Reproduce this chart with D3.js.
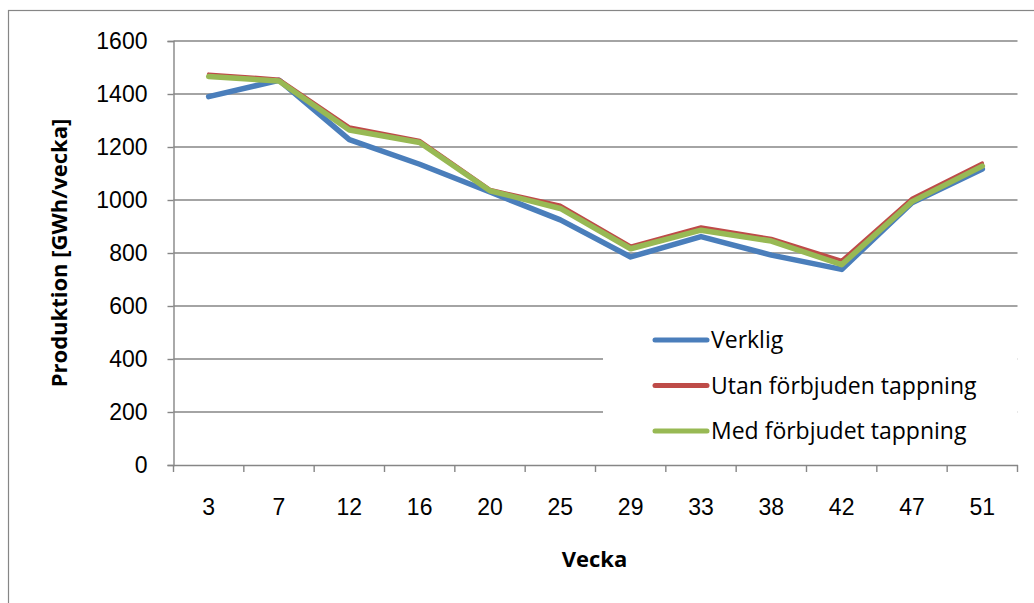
<!DOCTYPE html>
<html>
<head>
<meta charset="utf-8">
<script src="https://cdn.jsdelivr.net/npm/d3@7"></script>
<style>
  body { margin: 0; background: #fff; }
  svg { font-family: 'Open Sans', 'Noto Sans', sans-serif; }
</style>
</head>
<body>
<div id="chart"></div>
<script>
const weeks = ['3', '7', '12', '16', '20', '25', '29', '33', '38', '42', '47', '51'];
const verklig = [1390, 1452, 1228, 1135, 1030, 925, 785, 862, 792, 738, 990, 1117];
const utanForbjuden = [1475, 1456, 1276, 1225, 1040, 980, 826, 898, 855, 772, 1006, 1139];
const medForbjudet = [1466, 1449, 1264, 1217, 1035, 968, 816, 886, 845, 756, 994, 1128];
const yTicks = [0, 200, 400, 600, 800, 1000, 1200, 1400, 1600];

const series = [
  { name: 'Verklig', values: verklig, color: '#4a7ebb', width: 5.5 },
  { name: 'Utan förbjuden tappning', values: utanForbjuden, color: '#be4b48', width: 3.5 },
  { name: 'Med förbjudet tappning', values: medForbjudet, color: '#98b954', width: 5.5 }
];

const width = 1034, height = 603;
const margin = { top: 41, right: 16.5, bottom: 138, left: 173.5 };
const innerW = width - margin.left - margin.right;
const innerH = height - margin.top - margin.bottom;
const gray = '#868686';
const fs = 23;

const svg = d3.select('#chart').append('svg')
  .attr('width', width).attr('height', height);

// outer chart frame (runs off the picture to the right and bottom)
svg.append('rect')
  .attr('x', 8.5).attr('y', 10.5)
  .attr('width', 1040).attr('height', 620)
  .attr('fill', 'none').attr('stroke', gray).attr('stroke-width', 1.2);

const g = svg.append('g').attr('transform', `translate(${margin.left},${margin.top})`);

const x = d3.scaleBand().domain(weeks).range([0, innerW]);
const y = d3.scaleLinear().domain([0, 1600]).range([innerH, 0]);

// gridlines
g.append('g').selectAll('line').data(yTicks.filter(d => d > 0)).join('line')
  .attr('x1', 0).attr('x2', innerW)
  .attr('y1', d => y(d)).attr('y2', d => y(d))
  .attr('stroke', gray).attr('stroke-width', 1.4);

// y axis
const yAxis = g.append('g')
  .call(d3.axisLeft(y).tickValues(yTicks).tickSize(6).tickPadding(20).tickFormat(d3.format('d')));
yAxis.select('.domain').attr('stroke', gray).attr('stroke-width', 1.4);
yAxis.selectAll('.tick line').attr('stroke', gray).attr('stroke-width', 1.4);
yAxis.selectAll('.tick text').attr('font-size', fs).attr('fill', '#000');

// x axis, ticks between categories
const xAxis = g.append('g').attr('transform', `translate(0,${innerH})`)
  .call(d3.axisBottom(x).tickSize(0).tickPadding(34));
xAxis.select('.domain').attr('stroke', gray).attr('stroke-width', 1.4);
xAxis.selectAll('.tick text').attr('font-size', fs).attr('fill', '#000');
xAxis.append('g').selectAll('line').data(d3.range(weeks.length + 1)).join('line')
  .attr('x1', i => i * x.step()).attr('x2', i => i * x.step())
  .attr('y1', 0).attr('y2', 7)
  .attr('stroke', gray).attr('stroke-width', 1.4);

// axis titles
svg.append('text')
  .attr('transform', `translate(67,${margin.top + innerH / 2}) rotate(-90)`)
  .attr('text-anchor', 'middle').attr('font-size', fs - 1).attr('font-weight', 'bold')
  .text('Produktion [GWh/vecka]');
svg.append('text')
  .attr('x', 594.5).attr('y', 567)
  .attr('text-anchor', 'middle').attr('font-size', fs - 1).attr('font-weight', 'bold')
  .text('Vecka');

// legend box hides part of the grid
const legend = g.append('g').attr('transform', `translate(${603 - margin.left},${318 - margin.top})`);
legend.append('rect').attr('width', 1017.5 - 603).attr('height', 136).attr('fill', '#fff');

// lines
const line = d3.line()
  .x((d, i) => x(weeks[i]) + x.bandwidth() / 2)
  .y(d => y(d));

g.append('g').selectAll('path').data(series).join('path')
  .attr('d', d => line(d.values))
  .attr('fill', 'none')
  .attr('stroke', d => d.color)
  .attr('stroke-width', d => d.width)
  .attr('stroke-linejoin', 'round')
  .attr('stroke-linecap', 'round');

const item = legend.selectAll('g.item').data(series).join('g')
  .attr('class', 'item')
  .attr('transform', (d, i) => `translate(0,${22 + i * 45.5})`);
item.append('line')
  .attr('x1', 52).attr('x2', 104)
  .attr('stroke', d => d.color).attr('stroke-width', 5).attr('stroke-linecap', 'round');
item.append('text')
  .attr('x', 108).attr('y', 8)
  .attr('font-size', fs).attr('fill', '#000')
  .text(d => d.name);
</script>
</body>
</html>
